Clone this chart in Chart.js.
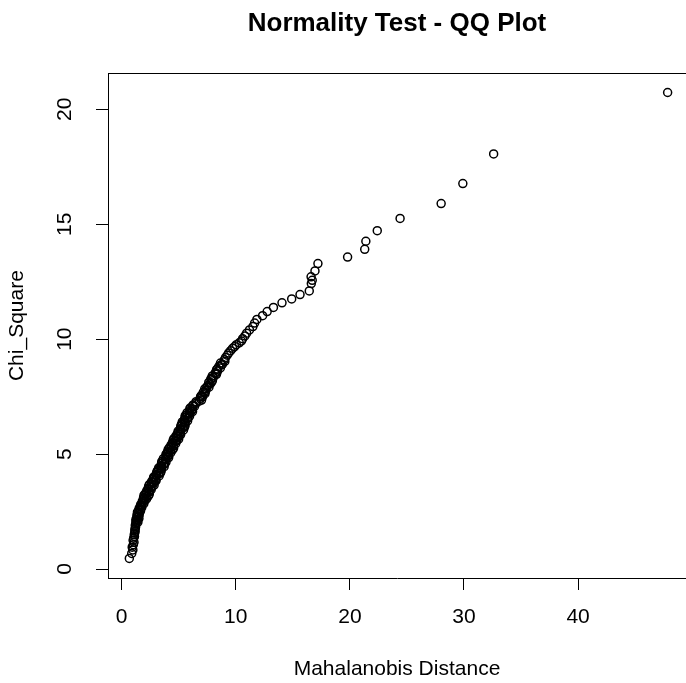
<!DOCTYPE html>
<html>
<head>
<meta charset="utf-8">
<title>Normality Test - QQ Plot</title>
<script src="https://cdn.jsdelivr.net/npm/chart.js@4/dist/chart.umd.min.js"></script>
<style>
    html, body { margin: 0; padding: 0; background: #fff; overflow: hidden; }
    #wrap { width: 686px; height: 683px; }
</style>
</head>
<body>
<div id="wrap"><canvas id="qqPlot" width="686" height="683"></canvas></div>
<script>
// squared Mahalanobis distances
const mahalanobis = [
    // lower tail
    0.67, 0.88, 0.98, 0.92, 1.02, 1.08, 1.0, 1.05, 1.12, 1.1, 1.14, 1.18, 1.15, 1.2, 1.22, 1.19, 1.25, 1.27,
    // 2 - 3
    1.42, 1.25, 1.37, 1.25, 1.51, 1.36, 1.47, 1.33, 1.54, 1.38, 1.50, 1.38, 1.65, 1.51, 1.65, 1.53,
    1.76, 1.62, 1.75, 1.66, 1.94, 1.80, 1.94, 1.81, 2.05,
    // 3 - 7 (dense band)
    2.18, 1.91, 2.14, 1.95, 2.42, 2.19, 2.40, 2.19, 2.58, 2.31, 2.55, 2.36, 2.84, 2.61, 2.83, 2.62,
    3.02, 2.75, 2.99, 2.80, 3.28, 3.05, 3.27, 3.06, 3.46, 3.19, 3.43, 3.24, 3.72, 3.49, 3.70, 3.49,
    3.88, 3.61, 3.84, 3.65, 4.12, 3.89, 4.10, 3.89, 4.29, 4.02, 4.26, 4.07, 4.55, 4.32, 4.54, 4.33,
    4.73, 4.46, 4.70, 4.51, 4.99, 4.76, 4.98, 4.77, 5.17, 4.90, 5.14, 4.95, 5.42, 5.18, 5.39, 5.17,
    5.56, 5.28, 5.51, 5.31, 5.78, 5.54, 5.76, 5.55, 5.95, 5.68, 5.92, 5.73, 6.21, 5.98, 6.20, 5.99,
    1.98, 2.33, 2.05, 2.41, 2.33, 2.67, 2.42, 2.77, 2.96, 2.85, 3.03, 3.39, 3.12, 3.49, 3.42, 3.77,
    3.51, 3.85, 4.03, 3.91, 4.08, 4.44, 4.17, 4.54, 4.47, 4.82, 4.57, 4.92, 5.11, 5.00, 5.17, 5.51,
    5.22, 5.57, 5.48, 5.82, 5.57, 5.92, 6.11, 6.00,
    // 7 - 9
    6.38, 6.26, 6.51, 6.52, 7.00, 6.89, 7.09, 6.99, 7.30, 7.16, 7.37, 7.28, 7.65, 7.54, 7.73, 7.63,
    7.95, 7.81, 8.03, 7.94, 8.31, 8.21, 8.41, 8.32, 8.65, 8.52, 8.74, 8.66, 9.04,
    6.24, 6.79, 6.91, 7.31, 7.45, 7.84, 7.86, 8.26, 8.38, 8.82,
    // 9 - 11.5
    9.0, 9.1, 9.25, 9.38, 9.55, 9.72, 9.9, 10.05, 10.3, 10.5, 10.6, 10.8, 10.95, 11.2, 11.5, 11.65,
    11.85, 12.35, 12.75, 13.3,
    // upper tail
    14.05, 14.9, 15.63, 16.44, 16.62, 16.7, 16.6, 16.94, 17.2, 19.8, 21.3, 21.4, 22.4, 24.4, 28.0, 29.9,
    32.6, 47.85
];

// chi-square quantiles (df = 6), same order as above
const chiSquare = [
    0.46, 0.68, 0.83, 0.95, 1.06, 1.16, 1.25, 1.34, 1.42, 1.5, 1.57, 1.64, 1.71, 1.78, 1.84, 1.9, 1.96, 2.02,
    2.04, 2.08, 2.12, 2.16, 2.2, 2.24, 2.28, 2.32, 2.36, 2.4, 2.44, 2.48, 2.52, 2.56, 2.6, 2.64,
    2.68, 2.72, 2.76, 2.8, 2.84, 2.88, 2.92, 2.96, 3.0,
    3.05, 3.1, 3.15, 3.2, 3.25, 3.3, 3.35, 3.4, 3.45, 3.5, 3.55, 3.6, 3.65, 3.7, 3.75, 3.8,
    3.85, 3.9, 3.95, 4.0, 4.05, 4.1, 4.15, 4.2, 4.25, 4.3, 4.35, 4.4, 4.45, 4.5, 4.55, 4.6,
    4.65, 4.7, 4.75, 4.8, 4.85, 4.9, 4.95, 5.0, 5.05, 5.1, 5.15, 5.2, 5.25, 5.3, 5.35, 5.4,
    5.45, 5.5, 5.55, 5.6, 5.65, 5.7, 5.75, 5.8, 5.85, 5.9, 5.95, 6.0, 6.05, 6.1, 6.15, 6.2,
    6.25, 6.3, 6.35, 6.4, 6.45, 6.5, 6.55, 6.6, 6.65, 6.7, 6.75, 6.8, 6.85, 6.9, 6.95, 7.0,
    3.075, 3.175, 3.275, 3.375, 3.475, 3.575, 3.675, 3.775, 3.875, 3.975, 4.075, 4.175, 4.275, 4.375, 4.475, 4.575,
    4.675, 4.775, 4.875, 4.975, 5.075, 5.175, 5.275, 5.375, 5.475, 5.575, 5.675, 5.775, 5.875, 5.975, 6.075, 6.175,
    6.275, 6.375, 6.475, 6.575, 6.675, 6.775, 6.875, 6.975,
    7.07, 7.14, 7.21, 7.28, 7.35, 7.42, 7.49, 7.56, 7.63, 7.7, 7.77, 7.84, 7.91, 7.98, 8.05, 8.12,
    8.19, 8.26, 8.33, 8.4, 8.47, 8.54, 8.61, 8.68, 8.75, 8.82, 8.89, 8.96, 9.03,
    7.1, 7.3, 7.5, 7.7, 7.9, 8.1, 8.3, 8.5, 8.7, 8.9,
    9.1, 9.2, 9.3, 9.4, 9.5, 9.6, 9.68, 9.76, 9.84, 9.92, 10.02, 10.14, 10.26, 10.4, 10.55, 10.7,
    10.86, 11.02, 11.2, 11.38,
    11.58, 11.75, 11.94, 12.1, 12.42, 12.56, 12.71, 12.97, 13.29, 13.57, 13.91, 14.26, 14.72, 15.25, 15.9, 16.77,
    18.06, 20.73
];

const xTickValues = [0, 10, 20, 30, 40];
const yTickValues = [0, 5, 10, 15, 20];

const plotTitle = 'Normality Test - QQ Plot';
const xTitle = 'Mahalanobis Distance';
const yTitle = 'Chi_Square';

const fontFamily = "'Liberation Sans', Arial, Helvetica, sans-serif";
Chart.defaults.font.family = fontFamily;
Chart.defaults.color = '#000';

// R draws a full box; the right side is cut off in the picture
const frameTop = {
    id: 'frameTop',
    afterDraw(chart) {
        const { ctx, chartArea } = chart;
        const y = Math.round(chartArea.top - 0.5) + 0.5;
        ctx.save();
        ctx.strokeStyle = '#000';
        ctx.lineWidth = 1;
        ctx.beginPath();
        ctx.moveTo(chartArea.left, y);
        ctx.lineTo(chartArea.right, y);
        ctx.stroke();
        ctx.restore();
    }
};

// fixed axis sizes so the plot box lands where R put it
function fixX(scale) {
    scale.height = 105;
    scale.paddingLeft = 0;
    scale.paddingRight = 0;
}
function fixY(scale) {
    scale.width = 108;
    scale.paddingTop = 0;
    scale.paddingBottom = 0;
}

const qqCtx = document.getElementById('qqPlot').getContext('2d');
new Chart(qqCtx, {
    type: 'scatter',
    data: {
        datasets: [{
            data: mahalanobis.map((x, i) => ({ x: x, y: chiSquare[i] })),
            pointStyle: 'circle',
            pointRadius: 4,
            pointHoverRadius: 4,
            pointBorderWidth: 1.5,
            pointBorderColor: '#000',
            pointBackgroundColor: 'rgba(0,0,0,0)',
        }],
    },
    options: {
        responsive: false,
        animation: false,
        events: [],
        layout: { padding: 0, autoPadding: false },
        plugins: {
            legend: { display: false },
            tooltip: { enabled: false },
            title: {
                display: true,
                text: plotTitle,
                fullSize: false,
                color: '#000',
                font: { size: 26, weight: 'bold', lineHeight: 1.2 },
                padding: { top: 8, bottom: 34 },
            },
        },
        scales: {
            x: {
                type: 'linear',
                min: -1.2,
                max: 49.46,
                afterFit: fixX,
                afterBuildTicks: (scale) => { scale.ticks = xTickValues.map(v => ({ value: v })); },
                grid: { drawOnChartArea: false, drawTicks: true, tickLength: 12, color: '#000' },
                border: { display: true, color: '#000', width: 1 },
                ticks: { color: '#000', font: { size: 21 }, padding: 15, maxRotation: 0, autoSkip: false },
                title: {
                    display: true,
                    text: xTitle,
                    color: '#000',
                    font: { size: 21, lineHeight: 1.2 },
                    padding: { top: 0, bottom: 1 },
                },
            },
            y: {
                type: 'linear',
                min: -0.39,
                max: 21.57,
                afterFit: fixY,
                afterBuildTicks: (scale) => { scale.ticks = yTickValues.map(v => ({ value: v })); },
                grid: { drawOnChartArea: false, drawTicks: true, tickLength: 12, color: '#000' },
                border: { display: true, color: '#000', width: 1 },
                ticks: {
                    color: '#000',
                    font: { size: 21 },
                    minRotation: 90,
                    maxRotation: 90,
                    crossAlign: 'center',
                    padding: 19,
                    autoSkip: false,
                },
                title: {
                    display: true,
                    text: yTitle,
                    color: '#000',
                    font: { size: 21, lineHeight: 1.2 },
                    padding: { top: 5, bottom: 0 },
                },
            },
        },
    },
    plugins: [frameTop],
});
</script>
</body>
</html>
